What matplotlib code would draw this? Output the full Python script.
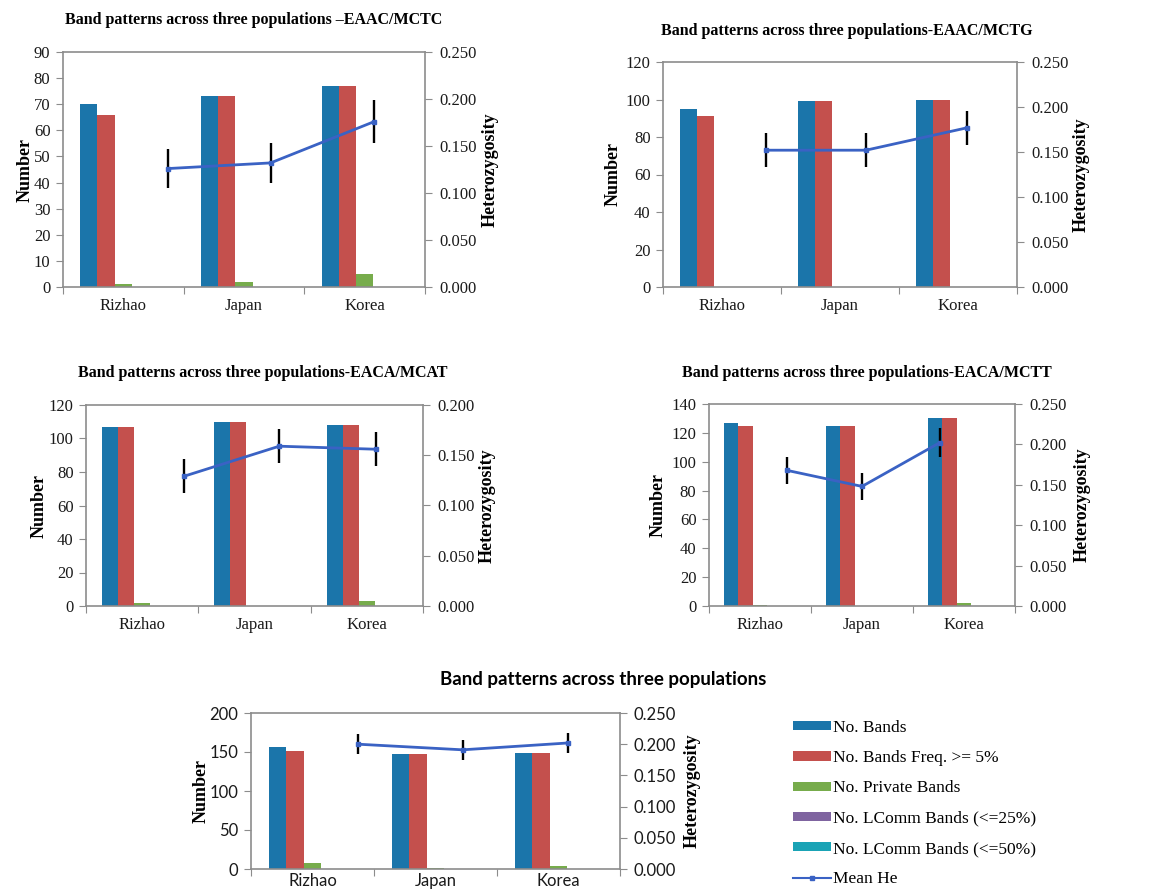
import matplotlib
matplotlib.use('Agg')
import matplotlib.pyplot as plt
from matplotlib.patches import Patch
from matplotlib.lines import Line2D
from matplotlib.ticker import MultipleLocator, FormatStrFormatter, FixedLocator, NullFormatter

# ---- data ----
populations = ["Rizhao", "Japan", "Korea"]
series_names = ["No. Bands", "No. Bands Freq. >= 5%", "No. Private Bands",
                "No. LComm Bands (<=25%)", "No. LComm Bands (<=50%)", "Mean He"]

# EAAC/MCTC
mctc_bands = [70, 73, 77]
mctc_freq5 = [66, 73, 77]
mctc_private = [1, 2, 5]
mctc_lcomm25 = [0, 0, 0]
mctc_lcomm50 = [0, 0, 0]
mctc_he = [0.126, 0.132, 0.176]
mctc_he_err = [0.021, 0.021, 0.023]

# EAAC/MCTG
mctg_bands = [95, 99, 100]
mctg_freq5 = [91, 99, 100]
mctg_private = [0, 0, 0]
mctg_lcomm25 = [0, 0, 0]
mctg_lcomm50 = [0, 0, 0]
mctg_he = [0.152, 0.152, 0.177]
mctg_he_err = [0.019, 0.019, 0.019]

# EACA/MCAT
mcat_bands = [107, 110, 108]
mcat_freq5 = [107, 110, 108]
mcat_private = [2, 0, 3]
mcat_lcomm25 = [0, 0, 0]
mcat_lcomm50 = [0, 0, 0]
mcat_he = [0.129, 0.159, 0.156]
mcat_he_err = [0.017, 0.017, 0.017]

# EACA/MCTT
mctt_bands = [127, 125, 130]
mctt_freq5 = [125, 125, 130]
mctt_private = [1, 0, 2]
mctt_lcomm25 = [0, 0, 0]
mctt_lcomm50 = [0, 0, 0]
mctt_he = [0.168, 0.148, 0.202]
mctt_he_err = [0.017, 0.017, 0.018]

# all combined
all_bands = [156, 147, 149]
all_freq5 = [151, 147, 149]
all_private = [8, 1, 4]
all_lcomm25 = [0, 0, 0]
all_lcomm50 = [0, 0, 0]
all_he = [0.200, 0.191, 0.202]
all_he_err = [0.016, 0.016, 0.016]

# ---- style ----
bar_colors = ['#1B75AA', '#C4504D', '#77AC4C', '#7F64A0', '#1AA3B5']
line_color = '#3A62C4'
axis_gray = '#8C8C8C'
text_col = '#1a1a1a'
serif = ['Liberation Serif', 'DejaVu Serif']
sans = ['Lato', 'DejaVu Sans']

W, H = 1161, 893
fig = plt.figure(figsize=(W / 100, H / 100), dpi=100, facecolor='white')


def px_rect(left, top, right, bottom):
    return [left / W, 1 - bottom / H, (right - left) / W, (bottom - top) / H]


def draw_panel(rect, title, title_xy, title_font, title_size, tick_font, xpad,
               series, he, he_err, he_pos, ymax, ystep, hmax, num_x, het_x):
    ax = fig.add_axes(rect)
    x = range(len(populations))
    w = 0.143
    for i, vals in enumerate(series):
        ax.bar([p + (i - 2) * w for p in x], vals, width=w, color=bar_colors[i],
               linewidth=0, zorder=2)
    ax.set_xlim(-0.5, 2.5)
    ax.set_ylim(0, ymax)
    ax.yaxis.set_major_locator(MultipleLocator(ystep))
    ax.xaxis.set_major_locator(FixedLocator([-0.5, 0.5, 1.5, 2.5]))
    ax.xaxis.set_major_formatter(NullFormatter())
    ax.xaxis.set_minor_locator(FixedLocator([0, 1, 2]))
    ax.set_xticklabels(populations, minor=True)
    ax.tick_params(axis='x', which='minor', length=0, pad=xpad)
    ax.tick_params(axis='x', which='major', length=5, color=axis_gray)
    ax.tick_params(axis='y', length=5, color=axis_gray, pad=4)
    for lab in ax.get_xticklabels(minor=True) + ax.get_yticklabels():
        lab.set_family(tick_font)
        lab.set_fontsize(12)
        lab.set_color(text_col)
    for sp in ax.spines.values():
        sp.set_color(axis_gray)
        sp.set_linewidth(1.2)
    ax.set_ylabel('Number', family=serif, fontsize=13, fontweight='bold', color='black')
    ax.yaxis.set_label_coords(num_x, 0.5)
    ax.yaxis.label.set_verticalalignment('center')

    ax2 = ax.twinx()
    ax2.set_ylim(0, hmax)
    ax2.yaxis.set_major_locator(MultipleLocator(0.05))
    ax2.yaxis.set_major_formatter(FormatStrFormatter('%.3f'))
    ax2.tick_params(axis='y', length=5, color=axis_gray, pad=5)
    for lab in ax2.get_yticklabels():
        lab.set_family(tick_font)
        lab.set_fontsize(12)
        lab.set_color(text_col)
    for sp in ax2.spines.values():
        sp.set_visible(False)
    ax2.errorbar(he_pos, he, yerr=he_err, fmt='none', ecolor='black',
                 elinewidth=1.7, capsize=0, zorder=3)
    ax2.plot(he_pos, he, color=line_color, lw=2, marker='s', ms=3, zorder=4)
    ax2.set_ylabel('Heterozygosity', family=serif, fontsize=13, fontweight='bold',
                   color='black', rotation=90)
    ax2.yaxis.set_label_coords(het_x, 0.5)
    ax2.yaxis.label.set_verticalalignment('center')

    fig.text(title_xy[0] / W, 1 - title_xy[1] / H, title, ha='center', va='center',
             family=title_font, fontsize=title_size, fontweight='bold', color='black')
    return ax


he_pos_main = [0.37, 1.22, 2.08]
he_pos_mctt = [0.26, 1.0, 1.76]

draw_panel(px_rect(63, 52, 425, 287),
           'Band patterns across three populations \u2013EAAC/MCTC', (254, 20), serif, 11.5,
           serif, 8,
           [mctc_bands, mctc_freq5, mctc_private, mctc_lcomm25, mctc_lcomm50],
           mctc_he, mctc_he_err, he_pos_main, 90, 10, 0.25, -0.105, 1.18)

draw_panel(px_rect(663, 62, 1017, 287),
           'Band patterns across three populations-EAAC/MCTG', (847, 31), serif, 11.5,
           serif, 8,
           [mctg_bands, mctg_freq5, mctg_private, mctg_lcomm25, mctg_lcomm50],
           mctg_he, mctg_he_err, he_pos_main, 120, 20, 0.25, -0.14, 1.18)

draw_panel(px_rect(86, 405, 423, 606),
           'Band patterns across three populations-EACA/MCAT', (263, 373), serif, 11.5,
           serif, 8,
           [mcat_bands, mcat_freq5, mcat_private, mcat_lcomm25, mcat_lcomm50],
           mcat_he, mcat_he_err, he_pos_main, 120, 20, 0.20, -0.14, 1.19)

draw_panel(px_rect(709, 404, 1015, 606),
           'Band patterns across three populations-EACA/MCTT', (867, 373), serif, 11.5,
           serif, 8,
           [mctt_bands, mctt_freq5, mctt_private, mctt_lcomm25, mctt_lcomm50],
           mctt_he, mctt_he_err, he_pos_mctt, 140, 20, 0.25, -0.167, 1.22)

draw_panel(px_rect(251, 713, 620, 869),
           'Band patterns across three populations', (603, 679), sans, 13.5,
           sans, 3,
           [all_bands, all_freq5, all_private, all_lcomm25, all_lcomm50],
           all_he, all_he_err, he_pos_main, 200, 50, 0.25, -0.134, 1.195)

handles = [Patch(facecolor=c, edgecolor='none') for c in bar_colors]
handles.append(Line2D([], [], color=line_color, lw=1.5, marker='s', ms=2.5))
fig.legend(handles, series_names, loc='upper left',
           bbox_to_anchor=(793 / W, 1 - 720 / H), frameon=False,
           prop={'family': serif, 'size': 12.5}, handlelength=2.2, handleheight=0.45,
           handletextpad=0.1, labelspacing=0.82, borderpad=0, borderaxespad=0)

fig.savefig('out.png', dpi=100, facecolor='white')
